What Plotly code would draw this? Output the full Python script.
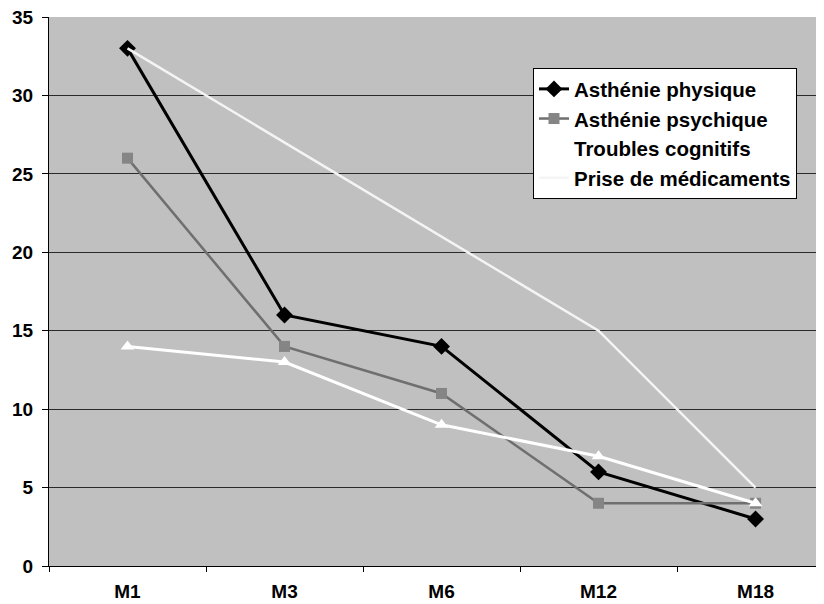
import plotly.graph_objects as go

categories = ["M1", "M3", "M6", "M12", "M18"]
asthenie_physique = [33, 16, 14, 6, 3]
asthenie_psychique = [26, 14, 11, 4, 4]
troubles_cognitifs = [14, 13, 9, 7, 4]
prise_medicaments = [33, 27, 21, 15, 5]
y_ticks = [0, 5, 10, 15, 20, 25, 30, 35]

FONT = "Liberation Sans, Arial, sans-serif"

fig = go.Figure()
fig.add_trace(go.Scatter(
    x=categories, y=asthenie_physique, name="Asthénie physique",
    mode="lines+markers",
    line=dict(color="black", width=3),
    marker=dict(symbol="diamond", size=13, color="black"),
))
fig.add_trace(go.Scatter(
    x=categories, y=asthenie_psychique, name="Asthénie psychique",
    mode="lines+markers",
    line=dict(color="#6f6f6f", width=2.5),
    marker=dict(symbol="square", size=11, color="#858585"),
))
fig.add_trace(go.Scatter(
    x=categories, y=troubles_cognitifs, name="Troubles cognitifs",
    mode="lines+markers",
    line=dict(color="white", width=3),
    marker=dict(symbol="triangle-up", size=12, color="white"),
))
fig.add_trace(go.Scatter(
    x=categories, y=prise_medicaments, name="Prise de médicaments",
    mode="lines",
    line=dict(color="#f4f4f4", width=2.5),
))

fig.update_layout(
    width=816, height=596,
    margin=dict(l=41, r=0, t=9, b=38),
    paper_bgcolor="white",
    plot_bgcolor="#c0c0c0",
    font=dict(family=FONT, size=20, color="black"),
    showlegend=True,
    legend=dict(
        x=0.6245, y=0.907, xanchor="left", yanchor="top",
        bgcolor="white", bordercolor="black", borderwidth=1,
        font=dict(family=FONT, size=20.5, color="black", weight="bold"),
        itemwidth=30,
    ),
)
fig.update_xaxes(
    type="category", categoryorder="array", categoryarray=categories,
    range=[-0.5, 4.436], automargin=False,
    showgrid=False, zeroline=False,
    showline=True, linecolor="black", linewidth=1,
    ticks="outside", tickson="boundaries", ticklen=5, tickcolor="black",
    ticklabelstandoff=8, ticklabeloverflow="allow",
    tickfont=dict(family=FONT, size=19, color="black", weight="bold"),
)
fig.update_yaxes(
    range=[0, 35], tickvals=y_ticks, automargin=False,
    showgrid=True, gridcolor="#2a2a2a", gridwidth=1,
    zeroline=False,
    showline=True, linecolor="black", linewidth=1,
    ticks="outside", ticklen=6, tickcolor="black",
    ticklabelstandoff=5, ticklabeloverflow="allow",
    tickfont=dict(family=FONT, size=19, color="black", weight="bold"),
)

fig.write_html("out.html")
